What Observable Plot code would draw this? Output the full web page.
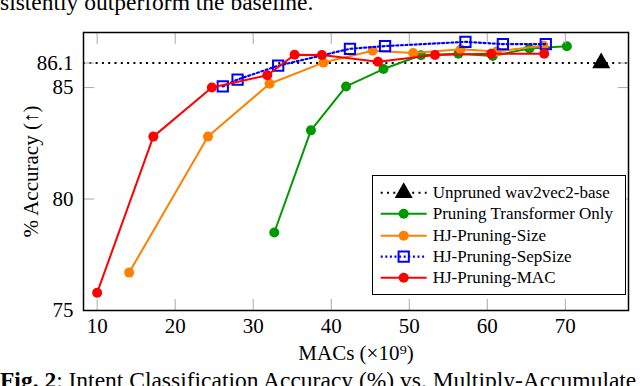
<!DOCTYPE html>
<html><head><meta charset="utf-8">
<script src="https://cdn.jsdelivr.net/npm/d3@7"></script>
<script src="https://cdn.jsdelivr.net/npm/@observablehq/plot@0.6"></script>
<style>
body{margin:0;background:#fff;}
#page{position:relative;width:640px;height:386px;overflow:hidden;font-family:"Liberation Serif","Times New Roman",serif;color:#000;}
#chart{position:absolute;left:0;top:0;}
.ptext{position:absolute;left:0;white-space:nowrap;font-size:23.5px;line-height:23.5px;}
#legend{position:absolute;left:372px;top:175px;width:252.4px;height:118.4px;border:1.3px solid #000;background:#fff;}
.lrow{position:absolute;left:0;height:21.4px;width:252px;}
.lrow svg{position:absolute;left:0;top:0;}
.lrow span{position:absolute;left:59.7px;top:0;line-height:21.4px;font-size:17px;white-space:nowrap;}
</style></head>
<body><div id="page">
<div id="chart"></div>
<div class="ptext" style="top:-8.7px">sistently outperform the baseline.</div>
<div class="ptext" style="top:369.3px"><b>Fig. 2</b>: Intent Classification Accuracy (%) vs. Multiply-Accumulate</div>
<div id="legend"></div>
</div>
<script>
// ---- data ----
const baselineName = "Unpruned wav2vec2-base";
const baselineAcc = 86.1;
const baselineMacs = [74.6];

const greenName = "Pruning Transformer Only";
const green_x = [32.7, 37.4, 41.9, 46.7, 51.5, 56.3, 60.7, 65.4, 70.2];
const green_y = [78.5, 83.08, 85.05, 85.83, 86.45, 86.52, 86.42, 86.75, 86.85];

const orangeName = "HJ-Pruning-Size";
const orange_x = [14.1, 24.2, 32.1, 39.0, 45.3, 50.5, 56.6, 61.2, 67.2];
const orange_y = [76.7, 82.8, 85.17, 86.12, 86.65, 86.55, 86.72, 86.62, 86.88];

const blueName = "HJ-Pruning-SepSize";
const blue_x = [26.1, 28.0, 33.2, 42.4, 46.9, 57.2, 62.0, 67.5];
const blue_y = [85.05, 85.36, 85.98, 86.74, 86.86, 87.05, 86.95, 86.95];

const redName = "HJ-Pruning-MAC";
const red_x = [10.0, 17.2, 24.7, 31.8, 35.3, 38.8, 46.0, 53.3, 60.5, 67.3];
const red_y = [75.8, 82.8, 85.0, 85.55, 86.47, 86.46, 86.16, 86.46, 86.52, 86.52];

const xTicks = [10, 20, 30, 40, 50, 60, 70];
const yTicks = [75, 80, 85, 86.1];
const xLabel = "MACs (×10⁹)";
const yLabel = "% Accuracy (↑)";

// ---- series styling ----
const series = [
  {name: greenName, xs: green_x, ys: green_y, color: "#009900", dash: null, symbol: "circle"},
  {name: orangeName, xs: orange_x, ys: orange_y, color: "#ff8000", dash: null, symbol: "circle"},
  {name: blueName, xs: blue_x, ys: blue_y, color: "#0000ff", dash: "2,2.6", symbol: "square"},
  {name: redName, xs: red_x, ys: red_y, color: "#ff0000", dash: null, symbol: "circle"}
];
const tbl = s => s.xs.map((x, i) => ({x, y: s.ys[i]}));

const marks = [
  Plot.ruleY([baselineAcc], {stroke: "#000", strokeWidth: 2, strokeDasharray: "2,4.3"}),
  Plot.dot(baselineMacs, {x: d => d, y: () => baselineAcc, symbol: "triangle", r: 6.7, fill: "#000"})
];
for (const s of series) {
  const data = tbl(s);
  marks.push(Plot.line(data, {x: "x", y: "y", stroke: s.color, strokeWidth: s.dash ? 2.2 : 2, strokeDasharray: s.dash}));
  if (s.symbol === "square") {
    marks.push(Plot.dot(data, {x: "x", y: "y", symbol: "square", r: 5.8, stroke: s.color, strokeWidth: 2, fill: "none"}));
  } else {
    marks.push(Plot.dot(data, {x: "x", y: "y", r: 5, fill: s.color}));
  }
}
const tickStroke = "#aaa";
marks.push(
  Plot.axisX({ticks: xTicks, anchor: "bottom", tickSize: 11, dy: -11, fill: "none", stroke: tickStroke, label: null}),
  Plot.axisX({ticks: xTicks, anchor: "top", tickSize: 11, dy: 11, fill: "none", stroke: tickStroke, label: null}),
  Plot.axisY({ticks: yTicks, anchor: "left", tickSize: 11, dx: 11, fill: "none", stroke: tickStroke, label: null}),
  Plot.axisY({ticks: yTicks, anchor: "right", tickSize: 11, dx: -11, fill: "none", stroke: tickStroke, label: null}),
  Plot.axisX({ticks: xTicks, anchor: "bottom", tickSize: 0, tickPadding: 8, tickFormat: d => String(d), label: null, fontSize: 21}),
  Plot.axisY({ticks: yTicks, anchor: "left", tickSize: 0, tickPadding: 10, tickFormat: d => String(d), label: null, fontSize: 21}),
  Plot.text([yLabel], {frameAnchor: "left", dx: -52, rotate: -90, textAnchor: "middle", lineAnchor: "middle", fontSize: 21}),
  Plot.text([xLabel], {frameAnchor: "bottom", dy: 43, textAnchor: "middle", lineAnchor: "middle", fontSize: 21}),
  Plot.frame({stroke: "#000", strokeWidth: 1.5})
);

const chart = Plot.plot({
  width: 640, height: 386,
  marginLeft: 83, marginRight: 12, marginTop: 32, marginBottom: 76,
  x: {domain: [8.25, 78.1]},
  y: {domain: [75, 87.47]},
  style: {fontFamily: "'Liberation Serif', 'Times New Roman', serif", fontSize: "21px", background: "transparent", color: "#000"},
  marks
});
document.getElementById("chart").appendChild(chart);

// ---- legend (HTML overlay) ----
const legend = d3.select("#legend");
const legendItems = [
  {name: baselineName, color: "#000", dash: "2,4.3", sw: 2, symbol: "triangle"},
  ...series.map(s => ({name: s.name, color: s.color, dash: s.dash, sw: s.dash ? 2.2 : 2, symbol: s.symbol}))
];
legendItems.forEach((it, i) => {
  const row = legend.append("div").attr("class", "lrow").style("top", (16.4 + i * 21.4 - 10.7) + "px");
  const svg = row.append("svg").attr("width", 60).attr("height", 21.4);
  const cy = 10.7;
  svg.append("line").attr("x1", 7.7).attr("x2", 53.7).attr("y1", cy).attr("y2", cy)
    .attr("stroke", it.color).attr("stroke-width", it.sw).attr("stroke-dasharray", it.dash);
  if (it.symbol === "triangle") {
    svg.append("path").attr("d", d3.symbol(d3.symbolTriangle, Math.PI * 6.7 * 6.7)()).attr("transform", `translate(30.7,${cy})`).attr("fill", it.color);
  } else if (it.symbol === "square") {
    svg.append("path").attr("d", d3.symbol(d3.symbolSquare, Math.PI * 5.8 * 5.8)()).attr("transform", `translate(30.7,${cy})`).attr("fill", "none").attr("stroke", it.color).attr("stroke-width", 2);
  } else {
    svg.append("circle").attr("cx", 30.7).attr("cy", cy).attr("r", 5).attr("fill", it.color);
  }
  row.append("span").text(it.name);
});
</script>
</body></html>
